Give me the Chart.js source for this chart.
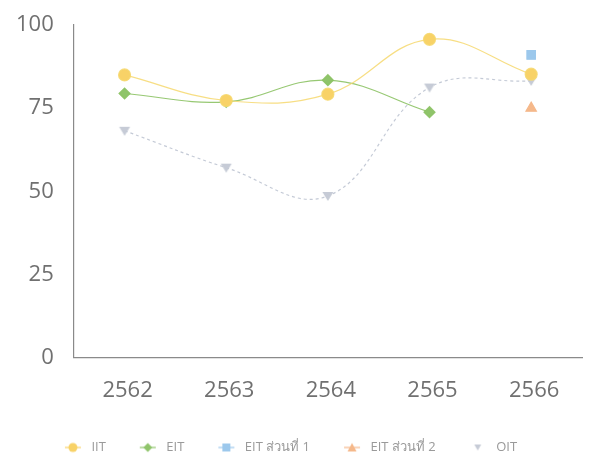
<!DOCTYPE html>
<html>
<head>
<meta charset="utf-8">
<script src="https://cdn.jsdelivr.net/npm/chart.js@4"></script>
<style>
  html, body { margin: 0; padding: 0; background: #fff; }
  #wrap { width: 590px; height: 457px; }
</style>
</head>
<body>
<div id="wrap"><canvas id="linechart"></canvas></div>
<script>
const years = ['2562', '2563', '2564', '2565', '2566'];
const iit = [85, 77.3, 79.2, 95.7, 85.2];
const eit = [79.4, 76.9, 83.4, 73.8, null];
const eitPart1 = [null, null, null, null, 91];
const eitPart2 = [null, null, null, null, 75];
const oit = [68.2, 57.1, 48.6, 81.2, 83.2];
const yTicks = [0, 25, 50, 75, 100];

const axisFont = "'Open Sans', Lato, 'Noto Sans', sans-serif";
const legendFont = "'Open Sans', 'Noto Sans', sans-serif";

// legend icons: blank gap, short line, marker on top
function legendIcon(color, shape, withLine) {
    const c = document.createElement('canvas');
    c.width = 44; c.height = 12;
    const g = c.getContext('2d');
    if (withLine) {
        g.strokeStyle = color;
        g.lineWidth = 1.2;
        g.beginPath(); g.moveTo(24, 6); g.lineTo(40, 6); g.stroke();
    }
    g.fillStyle = color;
    g.beginPath();
    const cx = 32;
    if (shape === 'circle') g.arc(cx, 6, 4.5, 0, Math.PI * 2);
    if (shape === 'rectRot') { g.moveTo(cx, 1.5); g.lineTo(cx + 4.5, 6); g.lineTo(cx, 10.5); g.lineTo(cx - 4.5, 6); }
    if (shape === 'rect') g.rect(cx - 4, 2, 8, 8);
    if (shape === 'triangle') { g.moveTo(cx, 1.5); g.lineTo(cx + 4.5, 10); g.lineTo(cx - 4.5, 10); }
    if (shape === 'tri-down') { g.moveTo(cx - 3.5, 3); g.lineTo(cx + 3.5, 3); g.lineTo(cx, 9); }
    g.fill();
    return c;
}

// downward triangle for OIT
const triDown = document.createElement('canvas');
triDown.width = 14; triDown.height = 14;
(function () {
    const g = triDown.getContext('2d');
    g.fillStyle = '#c6cbd6';
    g.beginPath(); g.moveTo(1.5, 3); g.lineTo(12.5, 3); g.lineTo(7, 12); g.fill();
})();

// legend sits a bit left of centre in the original
const nudgeLegend = {
    id: 'nudgeLegend',
    afterLayout: chart => { chart.legend.right -= 20; }
};

const ctx = document.getElementById('linechart').getContext('2d');

new Chart(ctx, {
    type: 'line',
    data: {
        labels: years,
        datasets: [{
            label: 'IIT',
            data: iit,
            borderColor: 'rgba(246, 216, 110, 0.85)',
            backgroundColor: '#f8d267',
            borderWidth: 1.2,
            pointStyle: 'circle',
            pointRadius: 6,
            tension: 0.4,
            icon: legendIcon('#f8d267', 'circle', true)
        }, {
            label: 'EIT',
            data: eit,
            borderColor: 'rgba(140, 194, 100, 0.9)',
            backgroundColor: '#8fc46a',
            borderWidth: 1.2,
            pointStyle: 'rectRot',
            pointRadius: 5.5,
            tension: 0.4,
            icon: legendIcon('#8fc46a', 'rectRot', true)
        }, {
            label: 'EIT ส่วนที่ 1',
            data: eitPart1,
            borderColor: '#9cc8ec',
            backgroundColor: '#9cc8ec',
            borderWidth: 1.2,
            pointStyle: 'rect',
            pointRadius: 6,
            icon: legendIcon('#9cc8ec', 'rect', true)
        }, {
            label: 'EIT ส่วนที่ 2',
            data: eitPart2,
            borderColor: '#f5b88a',
            backgroundColor: '#f5b88a',
            borderWidth: 1.2,
            pointStyle: 'triangle',
            pointRadius: 6,
            icon: legendIcon('#f5b88a', 'triangle', true)
        }, {
            label: 'OIT',
            data: oit,
            borderColor: 'rgba(190, 196, 210, 0.9)',
            backgroundColor: '#c6cbd6',
            borderWidth: 1.2,
            borderDash: [3, 3],
            pointStyle: triDown,
            tension: 0.4,
            icon: legendIcon('#c6cbd6', 'tri-down', false)
        }]
    },
    options: {
        responsive: true,
        maintainAspectRatio: false,
        animation: false,
        layout: {
            padding: { top: 25, right: 8, left: -4, bottom: -7 }
        },
        scales: {
            x: {
                offset: true,
                grid: { display: false, drawTicks: false },
                border: { display: true, color: '#8a8a8a', width: 1.2 },
                ticks: {
                    padding: 20,
                    labelOffset: 3,
                    color: '#707070',
                    font: { family: axisFont, size: 22 }
                },
                afterFit: axis => { axis.height += 7; }
            },
            y: {
                min: 0,
                max: 100,
                afterBuildTicks: axis => { axis.ticks = yTicks.map(v => ({ value: v })); },
                afterFit: axis => { axis.paddingTop = 0; },
                grid: { display: false, drawTicks: false },
                border: { display: true, color: '#8a8a8a', width: 1.2 },
                ticks: {
                    padding: 20,
                    color: '#707070',
                    font: { family: axisFont, size: 22 }
                }
            }
        },
        plugins: {
            legend: {
                position: 'bottom',
                labels: {
                    usePointStyle: true,
                    pointStyleWidth: 44,
                    padding: 10,
                    color: '#9a9a9a',
                    font: { family: legendFont, size: 13 },
                    generateLabels: chart => chart.data.datasets.map((ds, i) => ({
                        text: ds.label,
                        pointStyle: ds.icon,
                        fillStyle: ds.backgroundColor,
                        strokeStyle: ds.borderColor,
                        lineWidth: 0,
                        hidden: false,
                        datasetIndex: i,
                        fontColor: '#9a9a9a'
                    }))
                }
            },
            title: { display: false },
            tooltip: { enabled: false }
        }
    },
    plugins: [nudgeLegend]
});
</script>
</body>
</html>
